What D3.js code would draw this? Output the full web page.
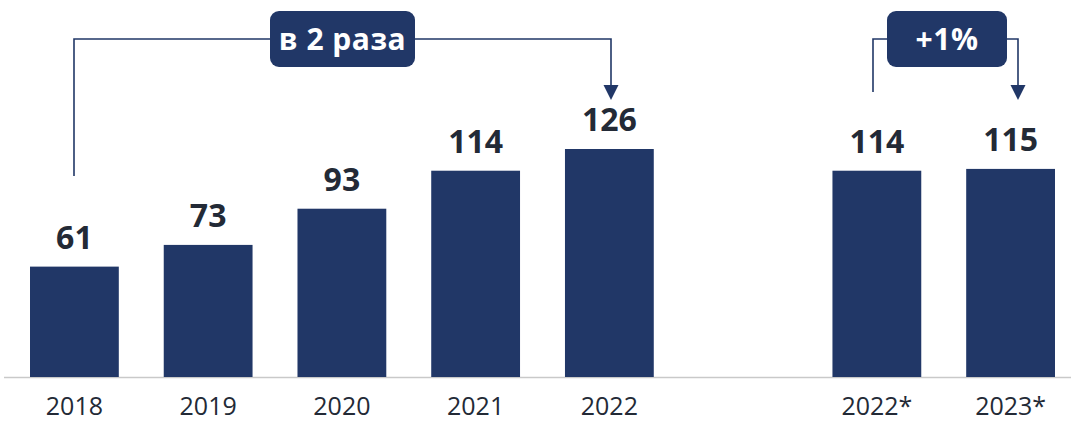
<!DOCTYPE html>
<html>
<head>
<meta charset="utf-8">
<script src="https://cdn.jsdelivr.net/npm/d3@7"></script>
<style>
  body { margin: 0; background: #fff; }
  svg { display: block; font-family: "Open Sans", "DejaVu Sans", sans-serif; }
</style>
</head>
<body>
<svg id="chart" width="1071" height="422"></svg>
<script>
const categories = ["2018", "2019", "2020", "2021", "2022", "2022*", "2023*"];
const values = [61, 73, 93, 114, 126, 114, 115];
// empty slot between the two groups
const slots = ["2018", "2019", "2020", "2021", "2022", "", "2022*", "2023*"];
const brackets = [
  { from: "2018", to: "2022", label: "в 2 раза" },
  { from: "2022*", to: "2023*", label: "+1%" }
];

const navy = "#213767";
const ink = "#232a36";

const svg = d3.select("#chart");
const data = categories.map((c, i) => ({ cat: c, value: values[i] }));

const x = d3.scaleBand().domain(slots).range([30, 1055]).paddingInner(0.336).paddingOuter(0);
const y = d3.scaleLinear().domain([0, d3.max(values)]).range([377, 149]);

// baseline
svg.append("line")
  .attr("x1", 4).attr("x2", 1071)
  .attr("y1", 377.5).attr("y2", 377.5)
  .attr("stroke", "#c9c9c9").attr("stroke-width", 1.5);

svg.append("g").selectAll("rect")
  .data(data)
  .join("rect")
  .attr("x", (d) => x(d.cat))
  .attr("y", (d) => y(d.value))
  .attr("width", x.bandwidth())
  .attr("height", (d) => y(0) - y(d.value))
  .attr("fill", navy);

svg.append("g").selectAll("text")
  .data(data)
  .join("text")
  .attr("x", (d) => x(d.cat) + x.bandwidth() / 2)
  .attr("y", (d) => y(d.value) - 18)
  .attr("text-anchor", "middle")
  .attr("fill", ink)
  .attr("font-size", "32px")
  .attr("font-weight", 700)
  .text((d) => d.value);

// year labels
const axis = svg.append("g")
  .attr("transform", "translate(0,377)")
  .call(d3.axisBottom(x).tickSize(0).tickValues(categories));
axis.select(".domain").remove();
axis.selectAll("text")
  .attr("y", 38)
  .attr("dy", 0)
  .attr("fill", ink)
  .attr("font-size", "25px")
  .attr("font-weight", 400)
  .attr("font-family", "'Open Sans', sans-serif");

// brackets with label boxes
const lineY = 39;
const boxes = [
  { left: 74, right: 611, bottom: 176, x0: 270, x1: 415 },
  { left: 873, right: 1018, bottom: 92, x0: 887, x1: 1007 }
];
const ann = svg.append("g");
brackets.forEach((b, i) => {
  const g = ann.append("g");
  const p = boxes[i];
  const tipY = 100;
  g.append("path")
    .attr("d", `M${p.left},${p.bottom}V${lineY}H${p.right}V${tipY - 14}`)
    .attr("fill", "none")
    .attr("stroke", navy)
    .attr("stroke-width", 1.6);
  g.append("path")
    .attr("d", `M${p.right - 7.5},${tipY - 15}L${p.right + 7.5},${tipY - 15}L${p.right},${tipY}Z`)
    .attr("fill", navy);
  g.append("rect")
    .attr("x", p.x0).attr("y", 11)
    .attr("width", p.x1 - p.x0).attr("height", 56)
    .attr("rx", 9)
    .attr("fill", navy);
  g.append("text")
    .attr("x", (p.x0 + p.x1) / 2)
    .attr("y", 50)
    .attr("text-anchor", "middle")
    .attr("fill", "#fff")
    .attr("font-size", "30px")
    .attr("font-weight", 700)
    .attr("letter-spacing", "0.5px")
    .text(b.label);
});
</script>
</body>
</html>
